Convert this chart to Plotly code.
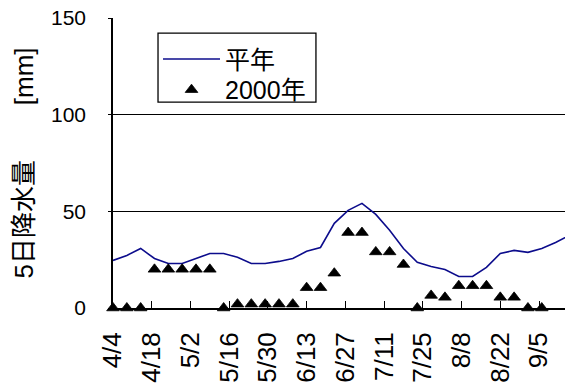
import pandas as pd
import plotly.graph_objects as go

# 5-day precipitation totals, one value every 5 days starting 4/4
dates = pd.date_range("2000-04-04", periods=34, freq="5D")

normal_mm = [24.6, 27.2, 30.8, 25.6, 23.0, 23.0, 25.6, 28.2, 28.2, 26.2,
             23.0, 23.0, 24.1, 25.6, 29.3, 31.3, 43.8, 50.5, 54.1, 48.4,
             40.2, 30.8, 23.6, 21.5, 19.9, 16.3, 16.3, 21.0, 28.2, 29.8,
             28.8, 30.8, 33.9, 37.5]

year2000_mm = [0, 0, 0, 20, 20, 20, 20, 20, 0, 2,
               2, 2, 2, 2, 10.5, 10.5, 18, 39, 39, 29,
               29, 22.5, 0, 6.5, 5.5, 11.5, 11.5, 11.5, 5.5, 5.5,
               0, 0, None, None]

tick_dates = ["2000-04-04", "2000-04-18", "2000-05-02", "2000-05-16",
              "2000-05-30", "2000-06-13", "2000-06-27", "2000-07-11",
              "2000-07-25", "2000-08-08", "2000-08-22", "2000-09-05"]
tick_labels = ["4/4", "4/18", "5/2", "5/16", "5/30", "6/13", "6/27",
               "7/11", "7/25", "8/8", "8/22", "9/5"]

FONT = "Liberation Sans, Arial, Noto Sans CJK JP, sans-serif"

fig = go.Figure()
fig.add_trace(go.Scatter(
    x=dates, y=normal_mm, name="平年", mode="lines",
    line=dict(color="#0c0c8c", width=1.6),
    legend="legend",
))
fig.add_trace(go.Scatter(
    x=dates, y=year2000_mm, name="2000年", mode="markers",
    marker=dict(symbol="triangle-up", size=11, color="black",
                line=dict(color="black", width=0.8)),
    cliponaxis=False,
    legend="legend2",
))

# shared frame around the two legend entries
fig.add_shape(
    type="rect", xref="paper", yref="paper",
    x0=0.0996, x1=0.449, y0=0.710, y1=0.948,
    line=dict(color="black", width=1.3), fillcolor="white", layer="above",
)

legend_common = dict(
    xanchor="left", yanchor="middle", bgcolor="rgba(0,0,0,0)",
    borderwidth=0, font=dict(size=25, family=FONT), itemwidth=57,
)

fig.update_layout(
    width=565, height=388,
    margin=dict(l=113, r=0, t=18, b=80, autoexpand=False),
    paper_bgcolor="white", plot_bgcolor="white",
    font=dict(family=FONT, color="black"),
    showlegend=True,
    legend=dict(x=0.0996, y=0.858, **legend_common),
    legend2=dict(x=0.0996, y=0.752, **legend_common),
    xaxis=dict(
        type="date",
        range=["2000-04-04", "2000-09-14 09:36"],
        tickmode="array", tickvals=tick_dates, ticktext=tick_labels,
        tickangle=-90, tickfont=dict(size=26, family=FONT),
        ticks="inside", ticklen=7, tickwidth=1, tickcolor="black",
        showline=True, linecolor="black", linewidth=1.6,
        showgrid=False, zeroline=False,
        ticklabelstandoff=12, automargin=False,
    ),
    yaxis=dict(
        range=[0, 150], tickvals=[0, 50, 100, 150],
        tickfont=dict(size=21, family=FONT),
        ticks="outside", ticklen=3, tickcolor="black",
        showline=True, linecolor="black", linewidth=1.6,
        showgrid=True, gridcolor="black", gridwidth=1,
        zeroline=False, automargin=False,
        ticklabelstandoff=18,
        title=dict(text="5日降水量\u3000\u00a0\u00a0\u00a0\u00a0[mm]",
                   font=dict(size=26, family=FONT), standoff=10),
    ),
)

fig.write_html("out.html")
